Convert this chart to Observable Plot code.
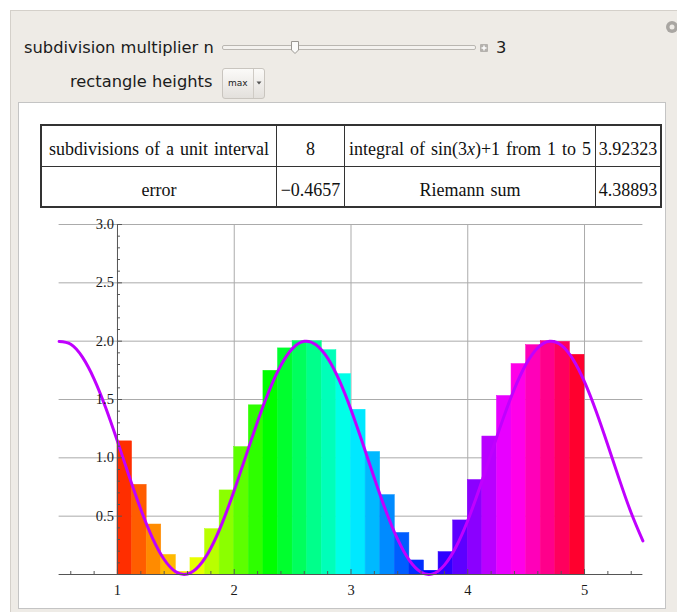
<!DOCTYPE html>
<html>
<head>
<meta charset="utf-8">
<script src="https://cdn.jsdelivr.net/npm/d3@7"></script>
<script src="https://cdn.jsdelivr.net/npm/@observablehq/plot@0.6"></script>
<style>
  html, body { margin: 0; padding: 0; }
  body { width: 677px; height: 612px; overflow: hidden; background: #fff; position: relative; font-family: "DejaVu Sans", sans-serif; }
  #panel { position: absolute; left: 10px; top: 10px; width: 700px; height: 640px; background: #eeebe6; border-top: 1px solid #d4d0ca; border-left: 1px solid #d4d0ca; }
  .lbl { position: absolute; font-size: 16.3px; line-height: 20px; color: #1c1c1c; white-space: nowrap; }
  #track { position: absolute; left: 222px; top: 45px; width: 252px; height: 3px; border: 1px solid #b9b6b1; border-radius: 2px; background: #f4f2ef; }
  #plus { position: absolute; left: 480px; top: 44px; width: 8px; height: 8px; background: #b4b1ad; border-radius: 1px; }
  #popup { position: absolute; left: 222px; top: 68px; width: 41px; height: 29px; border: 1px solid #c9c5bf; border-radius: 3px; background: linear-gradient(#fbfaf8, #e3e0dc); }
  #popup .t { position: absolute; left: 5px; top: 9px; font-size: 9px; color: #222; }
  #popup .sep { position: absolute; left: 30px; top: 0; width: 1px; height: 29px; background: #cfcbc5; }
  #inner { position: absolute; left: 18px; top: 102px; width: 646px; height: 505px; background: #fff; border: 1px solid #c4c4c4; }
  table.info { position: absolute; left: 40px; top: 124px; width: 622px; height: 84px; border-collapse: collapse; border: 2px solid #333; font-family: "Liberation Serif", "Times New Roman", serif; font-size: 18px; color: #111; }
  table.info td { border: 1px solid #333; text-align: center; padding: 0; padding-top: 8px; word-spacing: 1.5px; white-space: nowrap; }
  #plot { position: absolute; left: 18px; top: 210px; }
</style>
</head>
<body>
<div id="panel"></div>
<div class="lbl" style="left:24px; top:38px;">subdivision multiplier n</div>
<div id="track"></div>
<svg style="position:absolute; left:289px; top:40px;" width="12" height="16">
  <path d="M2.5,1.5 H9.5 V10 L6,13.5 L2.5,10 Z" fill="#fbfbfa" stroke="#9a9792" stroke-width="1"/>
</svg>
<div id="plus"></div>
<svg style="position:absolute; left:480px; top:44px;" width="8" height="8">
  <path d="M4,1.5 V6.5 M1.5,4 H6.5" stroke="#fff" stroke-width="1.4"/>
</svg>
<div class="lbl" style="left:496px; top:38px;">3</div>
<div class="lbl" style="left:70px; top:72px;">rectangle heights</div>
<div id="popup"><span class="t">max</span><div class="sep"></div>
  <svg style="position:absolute; left:33px; top:12px;" width="6" height="5"><path d="M0.5,0.5 H5.5 L3,3.5 Z" fill="#555"/></svg>
</div>
<svg style="position:absolute; left:664px; top:19px;" width="13" height="16">
  <circle cx="8" cy="8" r="6" fill="#a9a6a2"/>
  <circle cx="8" cy="8" r="2.5" fill="#eeebe6"/>
</svg>
<div id="inner"></div>
<table class="info">
  <tr>
    <td style="width:234px;">subdivisions of a unit interval</td>
    <td style="width:67px;">8</td>
    <td style="width:250px;">integral of sin(3<i>x</i>)+1 from 1 to 5</td>
    <td>3.92323</td>
  </tr>
  <tr>
    <td>error</td>
    <td>−0.4657</td>
    <td>Riemann sum</td>
    <td>4.38893</td>
  </tr>
</table>
<div id="plot"></div>
<script>
// ---- data ----
const subdivisions = 8;
const intervalStart = 1;
// max of sin(3x)+1 on each subinterval of width 1/8 from 1 to 5
const barHeights = [
  1.1411, 0.7687, 0.4284, 0.1678, 0.0225, 0.1411, 0.3884, 0.7206,
  1.0917, 1.4500, 1.7458, 1.9380, 2.0000, 1.9998, 1.9224, 1.7173,
  1.4121, 1.0498, 0.6805, 0.3557, 0.1203, 0.0321, 0.1918, 0.4634,
  0.8098, 1.1826, 1.5300, 1.8038, 1.9659, 2.0000, 1.9936, 1.8833
];
// curve sin(3x)+1
const curveX = [0.5,0.6,0.7,0.8,0.9,1.0,1.1,1.2,1.3,1.4,1.5,1.6,1.7,1.8,1.9,2.0,2.1,2.2,2.3,2.4,2.5,2.6,2.7,2.8,2.9,3.0,3.1,3.2,3.3,3.4,3.5,3.6,3.7,3.8,3.9,4.0,4.1,4.2,4.3,4.4,4.5,4.6,4.7,4.8,4.9,5.0,5.1,5.2,5.3,5.4,5.5];
const curveY = [1.9975,1.9738,1.8632,1.6755,1.4274,1.1411,0.8423,0.5575,0.3122,0.1284,0.0225,0.0038,0.0742,0.2272,0.4493,0.7206,1.0168,1.3115,1.5784,1.7937,1.9380,1.9985,1.9699,1.8546,1.6630,1.4121,1.1245,0.8257,0.5425,0.3001,0.1203,0.0191,0.0054,0.0805,0.2380,0.4634,0.7368,1.0336,1.3275,1.5921,1.8038,1.9437,1.9993,1.9657,1.8458,1.6503,1.3967,1.1078,0.8091,0.5276,0.2882];
const xTicks = [1, 2, 3, 4, 5];
const xTickLabels = ["1", "2", "3", "4", "5"];
const yTicks = [0.5, 1, 1.5, 2, 2.5, 3];
const yTickLabels = ["0.5", "1.0", "1.5", "2.0", "2.5", "3.0"];
const xGrid = [2, 3, 4, 5];
const xMinor = d3.range(3, 28).map(k => k / 5).filter(v => Math.abs(v - Math.round(v)) > 1e-9);
const yMinor = d3.range(1, 31).map(k => k / 10).filter(v => Math.abs(v * 2 - Math.round(v * 2)) > 1e-9);

const bars = barHeights.map((h, i) => ({
  x1: intervalStart + i / subdivisions,
  x2: intervalStart + (i + 1) / subdivisions,
  h, i
}));
const curve = curveX.map((x, i) => ({x, y: curveY[i]}));

const axisColor = "#555";
const gridColor = "#ababab";
const labelFont = "'Liberation Serif', 'Times New Roman', serif";

const chart = Plot.plot({
  width: 647,
  height: 390,
  marginLeft: 40.6,
  marginRight: 22.6,
  marginTop: 14,
  marginBottom: 26,
  x: {domain: [0.5, 5.5], axis: null},
  y: {domain: [0, 3], axis: null},
  color: {type: "linear", domain: [-1, 32], interpolate: t => d3.hsl(360 * t, 1, 0.5).formatHex()},
  style: {background: "transparent", fontFamily: labelFont, overflow: "visible"},
  marks: [
    Plot.ruleY(yTicks, {x1: 0.5, x2: 5.5, stroke: gridColor, strokeWidth: 1}),
    Plot.ruleX(xGrid, {y1: 0, y2: 3, stroke: gridColor, strokeWidth: 1}),
    Plot.rectY(bars, {x1: "x1", x2: "x2", y1: 0, y2: "h", fill: "i", stroke: "i", strokeWidth: 0.5}),
    Plot.line(curve, {x: "x", y: "y", stroke: "#c000ff", strokeWidth: 3, curve: "natural"}),
    Plot.ruleY([0], {x1: 0.5, x2: 5.5, stroke: axisColor, strokeWidth: 1}),
    Plot.ruleX([1], {y1: 0, y2: 3, stroke: axisColor, strokeWidth: 1}),
    Plot.ruleY(yMinor, {x1: 1, x2: 1, insetRight: -3, stroke: axisColor}),
    Plot.ruleY(yTicks, {x1: 1, x2: 1, insetRight: -5, stroke: axisColor}),
    Plot.ruleX(xMinor, {y1: 0, y2: 0, insetBottom: 3, stroke: axisColor}),
    Plot.ruleX(xTicks, {y1: 0, y2: 0, insetBottom: 5, stroke: axisColor}),
    Plot.text(yTicks, {x: 1, y: d => d, text: (d, i) => yTickLabels[i], textAnchor: "end", dx: -3.5, fill: "#1a1a1a", fontSize: 14.5, fontFamily: labelFont}),
    Plot.text(xTicks, {x: d => d, y: 0, text: (d, i) => xTickLabels[i], dy: 16, fill: "#1a1a1a", fontSize: 14.5, fontFamily: labelFont})
  ]
});
document.getElementById("plot").appendChild(chart);
</script>
</body>
</html>
